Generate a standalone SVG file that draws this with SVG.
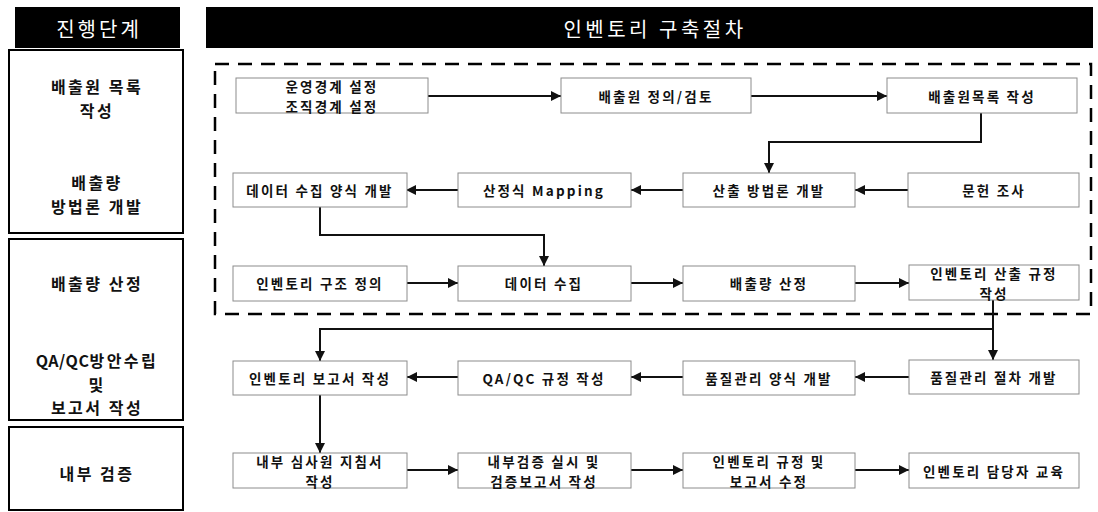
<svg xmlns="http://www.w3.org/2000/svg" width="1098" height="512" viewBox="0 0 1098 512">
<defs>
<style>
text{font-family:"Noto Sans CJK KR","Noto Sans",sans-serif;text-anchor:middle;dominant-baseline:central}
.hdr{fill:#000}
.hdrt{fill:#fff;font-size:20px}
.stage{fill:#fff;stroke:#000;stroke-width:2}
.st{font-size:16px;font-weight:bold;letter-spacing:2.5px;fill:#111}
.node rect{fill:#fff;stroke:#8c8c8c;stroke-width:1}
.node text{font-size:13.5px;font-weight:bold;letter-spacing:2.2px;fill:#111}
.conn path{fill:none;stroke:#111;stroke-width:2}
.arr{marker-end:url(#ah)}
.dash{fill:none;stroke:#000;stroke-width:2.5;stroke-dasharray:14 9}
</style>
<marker id="ah" viewBox="0 0 10 10" refX="10" refY="5" markerWidth="5" markerHeight="5" orient="auto" markerUnits="strokeWidth">
<path d="M0,0 L10,5 L0,10 z" fill="#111"/>
</marker>
</defs>
<rect width="1098" height="512" fill="#fff"/>

<g id="header-stage">
<rect class="hdr" x="15" y="7" width="165" height="41"/>
<text class="hdrt" x="99" y="28" style="letter-spacing:3px">진행단계</text>
</g>
<g id="header-procedure">
<rect class="hdr" x="206" y="7" width="887" height="41"/>
<text class="hdrt" x="655" y="28" style="letter-spacing:3.5px">인벤토리 구축절차</text>
</g>

<g id="stage-1">
<rect class="stage" x="9" y="50" width="174" height="183"/>
<text class="st" x="97" y="86">배출원 목록</text>
<text class="st" x="97" y="109.5">작성</text>
<text class="st" x="97" y="182">배출량</text>
<text class="st" x="97" y="205.5">방법론 개발</text>
</g>
<g id="stage-2">
<rect class="stage" x="9" y="239" width="174" height="181"/>
<text class="st" x="97" y="283">배출량 산정</text>
<text class="st" x="97" y="360"><tspan style="letter-spacing:0.5px">QA/QC</tspan>방안수립</text>
<text class="st" x="97" y="383.5">및</text>
<text class="st" x="97" y="407">보고서 작성</text>
</g>
<g id="stage-3">
<rect class="stage" x="9" y="427" width="174" height="83"/>
<text class="st" x="97" y="473">내부 검증</text>
</g>

<rect id="scope" class="dash" x="215" y="64" width="876" height="250"/>

<g id="connectors" class="conn">
<path class="arr" d="M428,96 H561"/>
<path class="arr" d="M751,96 H887"/>
<path class="arr" d="M981,113 V142 H769 V173"/>
<path class="arr" d="M908,190 H855"/>
<path class="arr" d="M683,190 H631"/>
<path class="arr" d="M458,190 H406"/>
<path class="arr" d="M320,207 V235 H544 V266"/>
<path class="arr" d="M406,283 H458"/>
<path class="arr" d="M631,283 H683"/>
<path class="arr" d="M855,283 H909"/>
<path class="arr" d="M993,300 V360"/>
<path class="arr" d="M993,329 H320 V361"/>
<path class="arr" d="M909,377 H855"/>
<path class="arr" d="M683,377 H631"/>
<path class="arr" d="M458,377 H407"/>
<path class="arr" d="M320,395 V453"/>
<path class="arr" d="M407,470 H458"/>
<path class="arr" d="M631,470 H683"/>
<path class="arr" d="M855,470 H909"/>
</g>

<g id="n-boundary" class="node">
<rect x="236" y="78" width="192" height="35"/>
<text x="332" y="85.5">운영경계 설정</text>
<text x="332" y="105.5">조직경계 설정</text>
</g>
<g id="n-source-def" class="node">
<rect x="561" y="78" width="190" height="35"/>
<text x="656" y="96">배출원 정의/검토</text>
</g>
<g id="n-source-list" class="node">
<rect x="887" y="78" width="190" height="35"/>
<text x="982" y="96">배출원목록 작성</text>
</g>

<g id="n-data-form" class="node">
<rect x="233" y="173" width="174" height="34"/>
<text x="320" y="190">데이터 수집 양식 개발</text>
</g>
<g id="n-mapping" class="node">
<rect x="458" y="173" width="173" height="34"/>
<text x="544" y="190">산정식 Mapping</text>
</g>
<g id="n-method" class="node">
<rect x="683" y="173" width="172" height="34"/>
<text x="769" y="190">산출 방법론 개발</text>
</g>
<g id="n-literature" class="node">
<rect x="908" y="173" width="171" height="34"/>
<text x="994" y="190">문헌 조사</text>
</g>

<g id="n-structure" class="node">
<rect x="233" y="266" width="174" height="35"/>
<text x="320" y="283">인벤토리 구조 정의</text>
</g>
<g id="n-data-collect" class="node">
<rect x="458" y="266" width="173" height="35"/>
<text x="544" y="283">데이터 수집</text>
</g>
<g id="n-emission" class="node">
<rect x="683" y="266" width="172" height="35"/>
<text x="769" y="283">배출량 산정</text>
</g>
<g id="n-rules" class="node">
<rect x="909" y="265" width="170" height="35"/>
<text x="994" y="272.5">인벤토리 산출 규정</text>
<text x="994" y="292.5">작성</text>
</g>

<g id="n-report" class="node">
<rect x="233" y="361" width="174" height="34"/>
<text x="320" y="378">인벤토리 보고서 작성</text>
</g>
<g id="n-qaqc" class="node">
<rect x="458" y="361" width="173" height="34"/>
<text x="544" y="378">QA/QC 규정 작성</text>
</g>
<g id="n-qm-form" class="node">
<rect x="683" y="361" width="172" height="34"/>
<text x="769" y="378">품질관리 양식 개발</text>
</g>
<g id="n-qm-proc" class="node">
<rect x="909" y="360" width="170" height="34"/>
<text x="994" y="377">품질관리 절차 개발</text>
</g>

<g id="n-auditor" class="node">
<rect x="233" y="453" width="174" height="35"/>
<text x="320" y="460.5">내부 심사원 지침서</text>
<text x="320" y="480.5">작성</text>
</g>
<g id="n-verify" class="node">
<rect x="458" y="453" width="173" height="35"/>
<text x="544" y="460.5">내부검증 실시 및</text>
<text x="544" y="480.5">검증보고서 작성</text>
</g>
<g id="n-revise" class="node">
<rect x="683" y="453" width="172" height="35"/>
<text x="769" y="460.5">인벤토리 규정 및</text>
<text x="769" y="480.5">보고서 수정</text>
</g>
<g id="n-training" class="node">
<rect x="909" y="453" width="170" height="35"/>
<text x="994" y="471">인벤토리 담당자 교육</text>
</g>
</svg>
